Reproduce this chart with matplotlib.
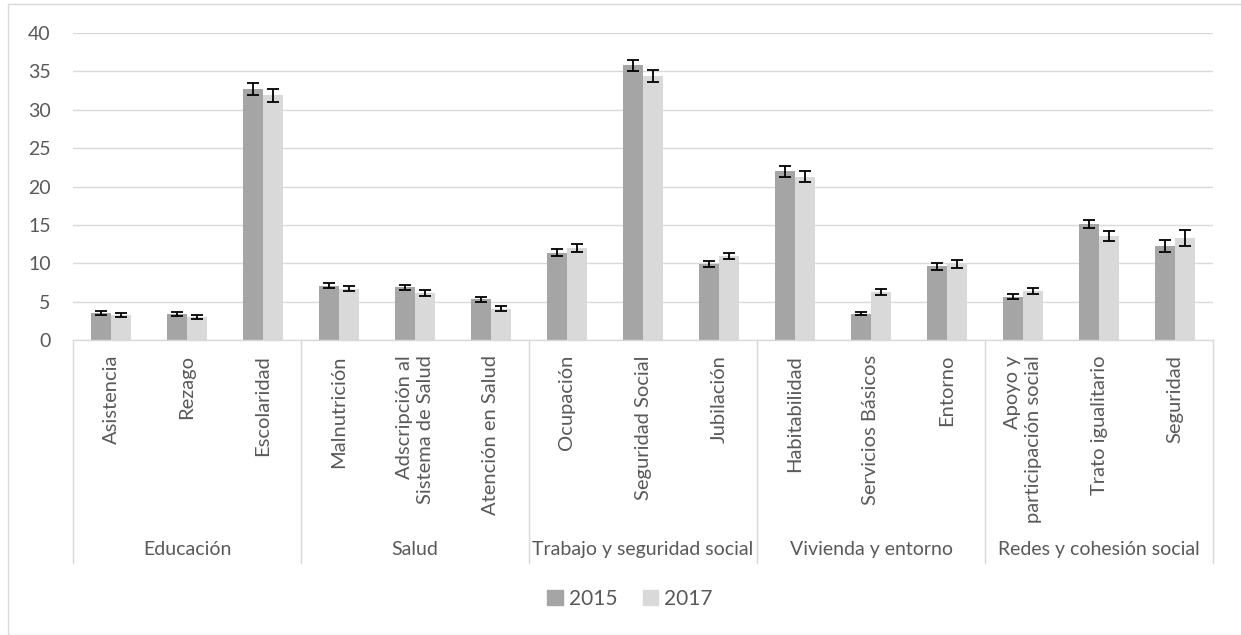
import matplotlib
matplotlib.use("Agg")
import matplotlib.pyplot as plt
import numpy as np
from matplotlib.lines import Line2D
from matplotlib.patches import Rectangle, Patch

groups = ["Educación", "Salud", "Trabajo y seguridad social", "Vivienda y entorno", "Redes y cohesión social"]
categories = ["Asistencia", "Rezago", "Escolaridad",
              "Malnutrición", "Adscripción al\nSistema de Salud", "Atención en Salud",
              "Ocupación", "Seguridad Social", "Jubilación",
              "Habitabilidad", "Servicios Básicos", "Entorno",
              "Apoyo y\nparticipación social", "Trato igualitario", "Seguridad"]
series_names = ["2015", "2017"]
v2015 = [3.5, 3.35, 32.7, 7.1, 6.9, 5.3, 11.4, 35.8, 9.9, 22.0, 3.45, 9.6, 5.65, 15.15, 12.3]
v2017 = [3.3, 3.0, 31.9, 6.7, 6.1, 4.1, 12.0, 34.4, 10.95, 21.3, 6.25, 9.9, 6.4, 13.6, 13.25]
e2015 = [0.28, 0.25, 0.75, 0.35, 0.33, 0.3, 0.42, 0.7, 0.35, 0.7, 0.25, 0.48, 0.35, 0.55, 0.78]
e2017 = [0.28, 0.25, 0.85, 0.35, 0.37, 0.3, 0.48, 0.74, 0.4, 0.72, 0.37, 0.5, 0.42, 0.65, 1.02]
yticks = [0, 5, 10, 15, 20, 25, 30, 35, 40]

FONT = "Lato"
TXT = "#595959"
C15 = "#a5a5a5"
C17 = "#d9d9d9"
GRID = "#d9d9d9"

W, H = 1241, 635
fig = plt.figure(figsize=(W / 100, H / 100), dpi=100)
L, R, T, B = 73, 1213, 33, 340
ax = fig.add_axes([L / W, 1 - B / H, (R - L) / W, (B - T) / H])

n = len(categories)
x = np.arange(n)
bw = 0.265
ax.bar(x - bw / 2, v2015, bw, color=C15, yerr=e2015, zorder=3,
       error_kw=dict(ecolor="black", elinewidth=1.3, capsize=4.3, capthick=1.3))
ax.bar(x + bw / 2, v2017, bw, color=C17, yerr=e2017, zorder=3,
       error_kw=dict(ecolor="black", elinewidth=1.3, capsize=4.3, capthick=1.3))

ax.set_xlim(-0.5, n - 0.5)
ax.set_ylim(0, 40)
ax.set_yticks(yticks)
ax.set_yticklabels([str(t) for t in yticks], fontsize=14, color=TXT, family=FONT)
ax.tick_params(axis="y", length=0, pad=16)
ax.set_xticks([])
ax.grid(axis="y", color=GRID, linewidth=1.0, zorder=0)
for s in ["top", "right", "left"]:
    ax.spines[s].set_visible(False)
ax.spines["bottom"].set_color(GRID)
ax.spines["bottom"].set_linewidth(1.0)
ax.spines["bottom"].set_zorder(4)

xt = ax.get_xaxis_transform()
ph = B - T
# category labels
for i, c in enumerate(categories):
    ax.text(i, -15 / ph, c, rotation=90, ha="center", va="top", multialignment="right",
            fontsize=14.5, color=TXT, family=FONT, transform=xt, linespacing=1.3)
# group separators and labels
for k in range(len(groups) + 1):
    xs = k * 3 - 0.5
    ax.add_line(Line2D([xs, xs], [0, -(563 - B) / ph], transform=xt, color=GRID,
                       linewidth=1.0, clip_on=False))
for k, g in enumerate(groups):
    ax.text(k * 3 + 1, -(549 - B) / ph, g, ha="center", va="center", fontsize=14,
            color=TXT, family=FONT, transform=xt)

handles = [Patch(color=C15), Patch(color=C17)]
fig.legend(handles, series_names, loc="center", bbox_to_anchor=(630 / W, 1 - 599 / H),
           ncol=2, frameon=False, handlelength=0.75, handleheight=0.75, handletextpad=0.3,
           columnspacing=1.2, prop=dict(family=FONT, size=15), labelcolor=TXT)

fig.patches.append(Rectangle((8 / W, 0), 1.2, 1 - 4 / H, transform=fig.transFigure,
                             fill=False, edgecolor="#d9d9d9", linewidth=1.0))

fig.savefig("out.png", dpi=100)
